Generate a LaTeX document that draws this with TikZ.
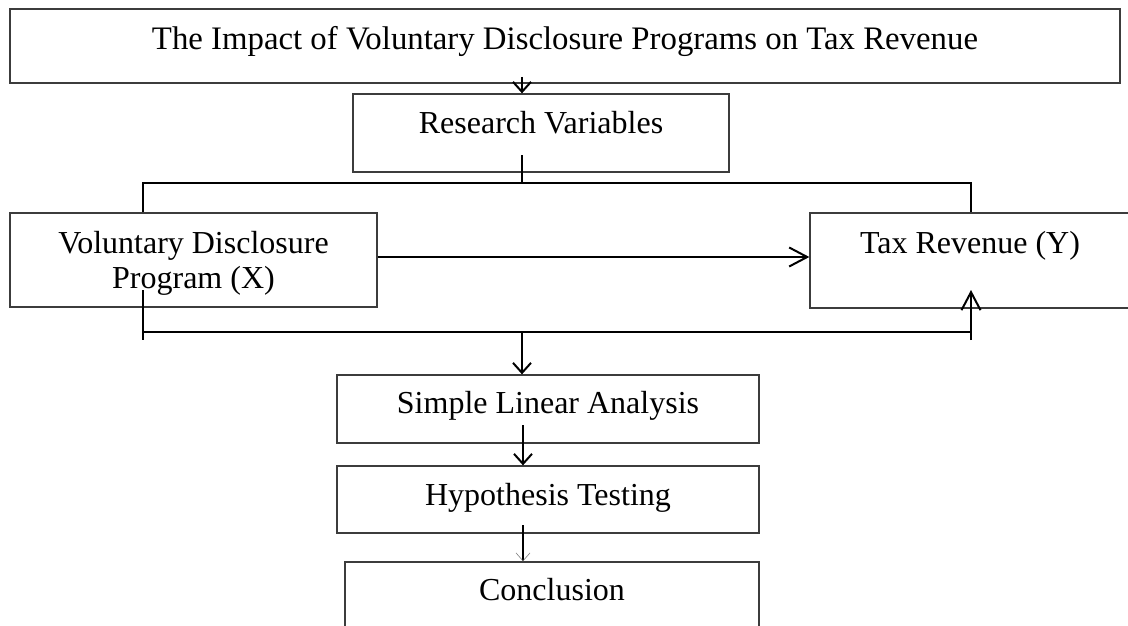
\documentclass[tikz,border=0pt]{standalone}
\usepackage{fontspec}
\setmainfont{Liberation Serif}
\usetikzlibrary{arrows.meta}
\definecolor{boxgray}{HTML}{3C3C3C}
\begin{document}
\begin{tikzpicture}[x=1pt,y=-1pt,
  box/.style={draw=boxgray, line width=1.3pt, fill=white, inner sep=0pt,
    font=\fontsize{32}{35}\selectfont},
  conn/.style={line width=2pt, black},
  arrlong/.style={conn, -{Straight Barb[length=18pt,width=19pt,line width=2pt]}},
  arrshort/.style={conn, -{Straight Barb[length=10pt,width=18pt,line width=2pt]}},
  arrfaint/.style={conn, -{Straight Barb[length=8pt,width=14pt,line width=0.6pt,color=gray]}}
]
\clip (0,0) rectangle (1128,626);
\fill[white] (0,0) rectangle (1128,626);

% boxes
\node[box, font=\fontsize{32.8}{36}\selectfont, minimum width=1110pt, minimum height=74pt, text height=24pt, text depth=16pt]
  (title) at (565,46) {The Impact of Voluntary Disclosure Programs on Tax Revenue};
\node[box, minimum width=376pt, minimum height=78pt, text height=24pt, text depth=24pt]
  (research) at (541,133) {Research Variables};
\node[box, minimum width=367pt, minimum height=94pt, text height=45pt, text depth=24pt]
  (vdp) at (193.5,260) {\begin{tabular}{@{}c@{}}Voluntary Disclosure\\Program (X)\end{tabular}};
\node[box, minimum width=320pt, minimum height=95pt, text height=24pt, text depth=39pt]
  (tax) at (970,260.5) {Tax Revenue (Y)};
\node[box, minimum width=422pt, minimum height=68pt, text height=24pt, text depth=16pt]
  (sla) at (548,409) {Simple Linear Analysis};
\node[box, minimum width=422pt, minimum height=67pt, text height=24pt, text depth=13pt]
  (hyp) at (548,499.5) {Hypothesis Testing};
\node[box, minimum width=414pt, minimum height=88pt, text height=24pt, text depth=36pt]
  (conc) at (552,606) {Conclusion};

% junction points
\coordinate (a1) at (522,77);
\coordinate (r1) at (522,155);
\coordinate (hl) at (143,183);
\coordinate (hr) at (971,183);
\coordinate (bl0) at (143,290);
\coordinate (bl1) at (143,340);
\coordinate (bl) at (143,332);
\coordinate (br) at (971,332);
\coordinate (br1) at (971,340);
\coordinate (br0) at (971,290);
\coordinate (bm) at (522,332);
\coordinate (s1) at (523,425);
\coordinate (h1) at (523,525);

% connectors
\draw[arrshort] (a1) -- (a1 |- research.north);
\draw[conn] (r1) -- (r1 |- hl);
\draw[conn] (vdp.north -| hl) -- (hl) -- (hr) -- (hr |- tax.north);
\draw[arrlong] ([yshift=3pt]vdp.east) -- ([yshift=3pt]vdp.east -| tax.west);
\draw[conn] (bl0) -- (bl1);
\draw[conn] (bl) -- (br);
\draw[arrlong] (br1) -- (br0);
\draw[arrshort] (bm) -- (bm |- sla.north);
\draw[arrshort] (s1) -- (s1 |- hyp.north);
\draw[arrfaint] (h1) -- (h1 |- conc.north);
\end{tikzpicture}
\end{document}
